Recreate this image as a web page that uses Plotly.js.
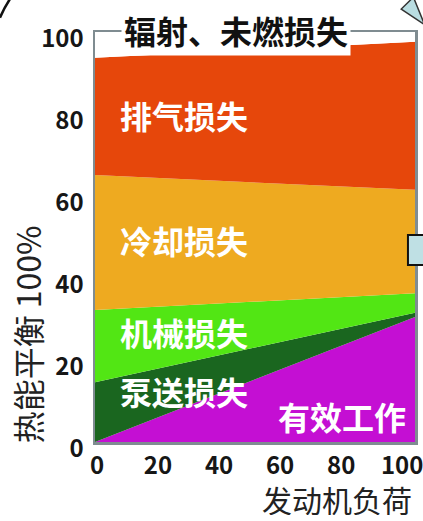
<!DOCTYPE html>
<html>
<head>
<meta charset="utf-8">
<script src="https://cdn.plot.ly/plotly-3.0.1.min.js"></script>
<style>
  html, body { margin: 0; padding: 0; background: #ffffff; }
  #chart { width: 423px; height: 521px; }
</style>
</head>
<body>
<div id="chart"></div>
<script>
// Engine load (%) at the low and high end of the range
const load = [0, 100];

// Share of the fuel heat (%) at each load, listed from the bottom of the stack up
const usefulWork    = [0, 30.5];
const pumpingLoss   = [14.6, 1.0];
const mechLoss      = [17.6, 4.8];
const coolingLoss   = [32.9, 25.2];
const exhaustLoss   = [28.6, 36.1];
const radiationLoss = [6.3, 2.4];

const seriesNames = ['有效工作', '泵送损失', '机械损失', '冷却损失', '排气损失', '辐射、未燃损失'];
const seriesValues = [usefulWork, pumpingLoss, mechLoss, coolingLoss, exhaustLoss, radiationLoss];
const seriesColors = ['#c40fd3', '#1a661f', '#52e614', '#eeaa20', '#e6470b', '#ffffff'];

// Axis ticks
const xTicks = [0, 20, 40, 60, 80, 100];
const yTicks = [0, 20, 40, 60, 80, 100];

const CJK = '"Noto Sans CJK SC", "Noto Sans", sans-serif';

// Stacked areas
const traces = seriesNames.map((name, i) => ({
  type: 'scatter',
  name: name,
  x: load,
  y: seriesValues[i],
  stackgroup: 'heat',
  mode: 'none',
  fillcolor: seriesColors[i],
  hoverinfo: 'skip'
}));

// Empty trace that carries the tick-label axis
traces.push({ type: 'scatter', x: [], y: [], xaxis: 'x2', yaxis: 'y', hoverinfo: 'skip', showlegend: false });

const frameColor = '#7f8c91';
const tickFont = { family: CJK, size: 24, color: '#161616', weight: 'bold' };

// In-area labels, placed at the middle of each band
const bandLabels = [
  { text: '排气损失', x: 7.2, y: 79.8, xanchor: 'left' },
  { text: '冷却损失', x: 7.2, y: 49.3, xanchor: 'left' },
  { text: '机械损失', x: 7.2, y: 26.8, xanchor: 'left' },
  { text: '泵送损失', x: 7.2, y: 12.4, xanchor: 'left' },
  { text: '有效工作', x: 77.2, y: 6.3, xanchor: 'center' }
];

const annotations = bandLabels.map(l => ({
  text: l.text, x: l.x, y: l.y, xref: 'x', yref: 'y',
  xanchor: l.xanchor, yanchor: 'middle', showarrow: false,
  font: { family: CJK, size: 32, color: '#ffffff', weight: 'bold' }
}));

// Top band label sitting on the frame line
annotations.push({
  text: '辐射、未燃损失', x: 44, y: 1.005, xref: 'x', yref: 'paper',
  xanchor: 'center', yanchor: 'middle', showarrow: false,
  bgcolor: '#ffffff', borderpad: 2,
  font: { family: CJK, size: 32, color: '#111111', weight: 'bold' }
});

// Axis titles
annotations.push({
  text: '热能平衡 100%', x: -0.212, y: 0.263, xref: 'paper', yref: 'paper',
  xanchor: 'center', yanchor: 'middle', textangle: -90, showarrow: false,
  font: { family: CJK, size: 32, color: '#222222' }
});
annotations.push({
  text: '发动机负荷', x: 0.756, y: -0.14, xref: 'paper', yref: 'paper',
  xanchor: 'center', yanchor: 'middle', showarrow: false, borderpad: 0,
  height: 32, valign: 'middle',
  font: { family: CJK, size: 30, color: '#222222' }
});

// Page decorations around the figure
const shapes = [
  { type: 'path', xref: 'paper', yref: 'paper',
    path: 'M -0.266,1.08 Q -0.283,1.06 -0.297,1.035',
    line: { color: '#111111', width: 2.5 } },
  { type: 'path', xref: 'paper', yref: 'paper',
    path: 'M 0.995,1.085 L 0.957,1.056 L 1.03,1.018 Z',
    fillcolor: '#b9dde1', line: { color: '#333333', width: 1.5 } },
  { type: 'rect', xref: 'paper', yref: 'paper',
    x0: 0.978, x1: 1.06, y0: 0.432, y1: 0.505,
    fillcolor: '#bfe0e4', line: { color: '#111111', width: 2 } }
];

const layout = {
  width: 423,
  height: 521,
  margin: { l: 95, r: 8, t: 32, b: 79, pad: 0 },
  paper_bgcolor: '#ffffff',
  plot_bgcolor: '#ffffff',
  showlegend: false,
  xaxis: {
    range: [0, 100], showgrid: false, zeroline: false, showticklabels: false,
    ticks: '', showline: true, mirror: true, linecolor: frameColor, linewidth: 2.5,
    fixedrange: true
  },
  xaxis2: {
    overlaying: 'x', anchor: 'y', side: 'bottom',
    range: [-0.65, 104.2], tickmode: 'array', tickvals: xTicks,
    ticktext: xTicks.map(String), showgrid: false, zeroline: false,
    showline: false, ticks: '', tickfont: tickFont, ticklabelstandoff: 7,
    ticklabeloverflow: 'allow', fixedrange: true
  },
  yaxis: {
    range: [0, 100], tickmode: 'array', tickvals: yTicks,
    ticktext: yTicks.map(String), showgrid: false, zeroline: false,
    ticks: '', showline: true, mirror: true, linecolor: frameColor, linewidth: 2.5,
    tickfont: tickFont, ticklabelshift: 7, ticklabelstandoff: 4,
    ticklabeloverflow: 'allow', fixedrange: true
  },
  annotations: annotations,
  shapes: shapes
};

Plotly.newPlot('chart', traces, layout, { displayModeBar: false, staticPlot: true });
</script>
</body>
</html>
